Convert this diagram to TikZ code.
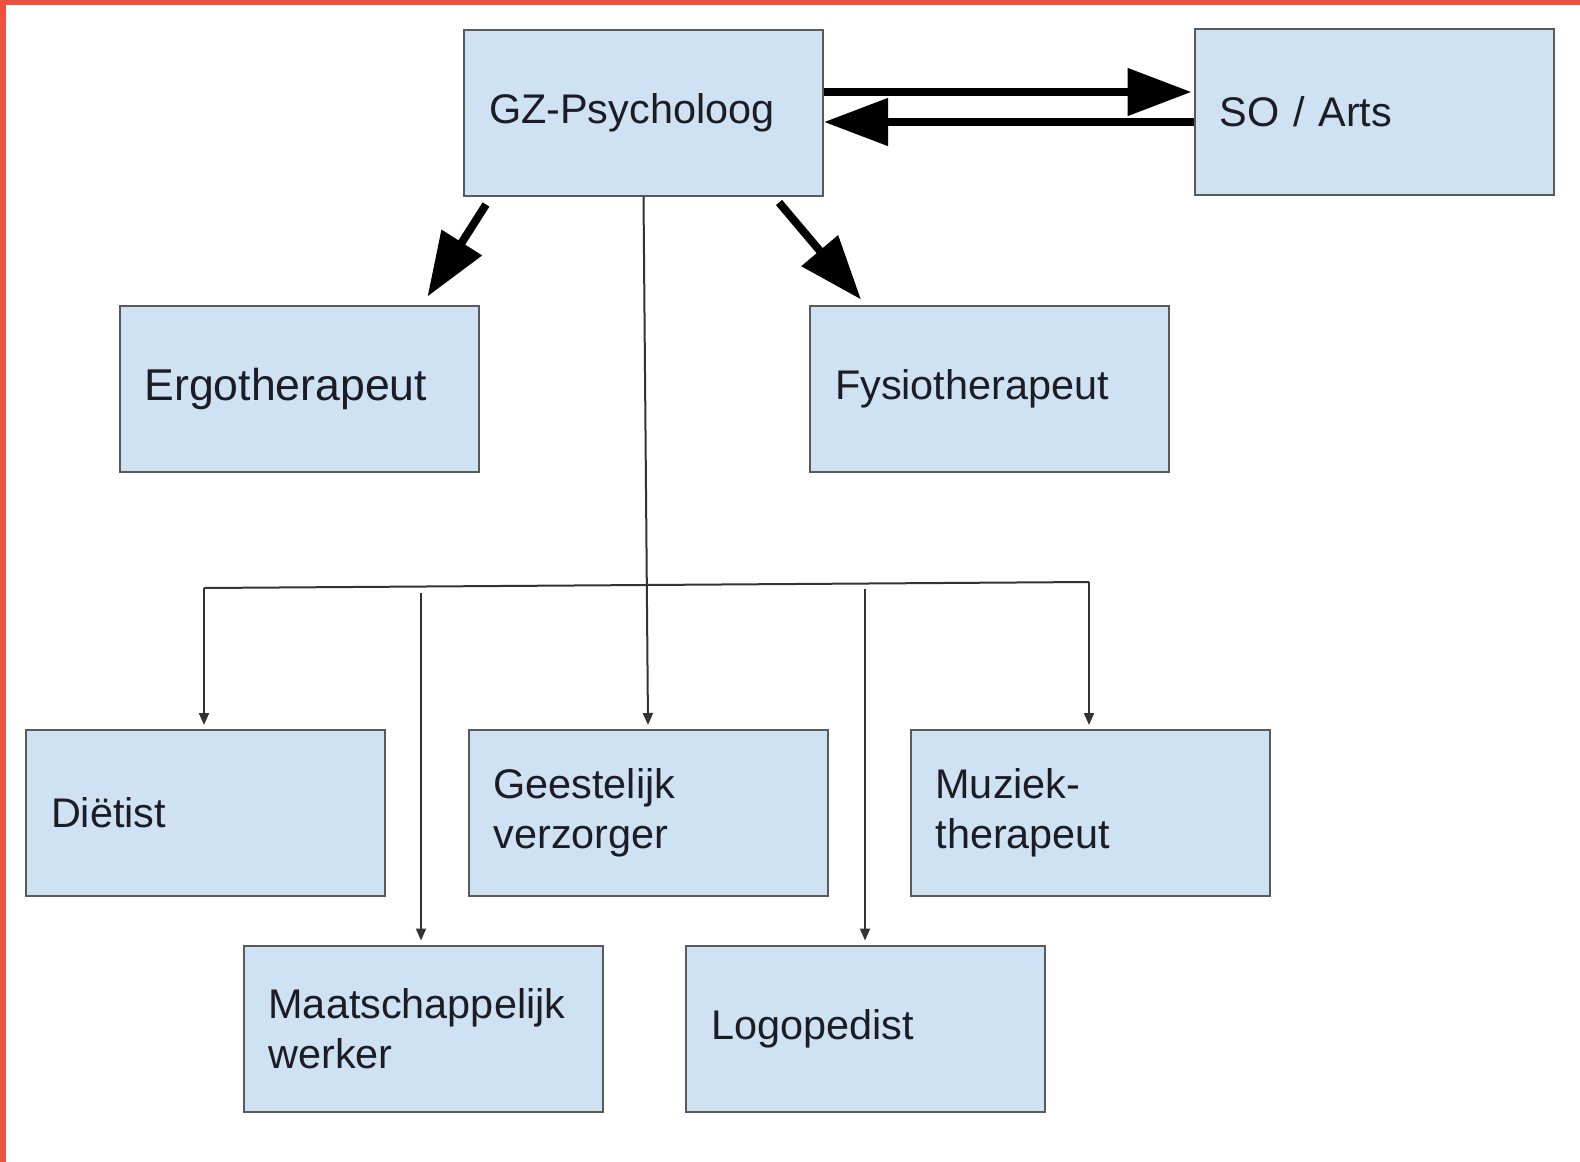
\documentclass[tikz,border=0pt]{standalone}
\usepackage{fontspec}
\setmainfont{Liberation Sans}
\usetikzlibrary{arrows.meta,calc,positioning}
\definecolor{boxfill}{HTML}{CFE2F3}
\definecolor{boxline}{HTML}{5A5A5A}
\definecolor{boxtext}{HTML}{1C1C24}
\definecolor{frame}{HTML}{EE5140}

\begin{document}
\begin{tikzpicture}[x=0.5pt,y=-0.5pt]
\tikzstyle{box}=[draw=boxline,line width=1pt,fill=boxfill,minimum height=83pt,
  text width=154.5pt,inner xsep=12.5pt,inner ysep=2pt,align=left,text=boxtext,
  font=\fontsize{20.7}{25}\selectfont]
\tikzstyle{flow}=[line width=4pt,-{Triangle[length=32pt,width=23pt]}]
\tikzstyle{link}=[line width=1pt,draw=black!80,-{Triangle[length=6pt,width=5pt]}]

\useasboundingbox (0,0) rectangle (1580,1162);
\fill[frame] (0,0) rectangle (1580,5);
\fill[frame] (0,0) rectangle (6,1162);

\node[box] (gz) at (643.5,112.5) {GZ-Psycholoog};
\node[box] (so) at (1374,112) {SO / Arts};
\node[box,font=\fontsize{22.3}{25}\selectfont] (ergo) at (299,388.5) {Ergotherapeut};
\node[box] (fysio) at (989.5,388.5) {Fysiotherapeut};
\node[box] (dietist) at (205.5,813) {Diëtist};
\node[box] (geest) at (648,813) {Geestelijk\\verzorger};
\node[box] (muziek) at (1090,813) {Muziek-\\therapeut};
\node[box] (maatsch) at (423,1028.5) {Maatschappelijk\\werker};
\node[box] (logo) at (865.5,1028.5) {Logopedist};

\coordinate (busL) at (204,588);
\coordinate (busR) at (1089,582);
\coordinate (maatschTop) at (421,593);
\coordinate (logoTop) at (865,589);

\draw[flow] ($(gz.east)+(0,-20.5)$) -- ($(so.west)+(-2,-20)$);
\draw[flow] ($(so.west)+(0,10)$) -- ($(gz.east)+(0,9.5)$);
\draw[flow] ($(gz.south west)+(23,8)$) -- ($(ergo.north east)+(-52,-8)$);
\draw[flow] ($(gz.south east)+(-45,6)$) -- ($(fysio.north west)+(52,-5)$);

\draw[link] (gz.south) -- ($(geest.north)+(0,-4)$);
\draw[line width=1pt,draw=black!80] (busL) -- (busR);
\draw[link] (busL) -- ($(busL |- dietist.north)+(0,-4)$);
\draw[link] (busR) -- ($(busR |- muziek.north)+(0,-4)$);
\draw[link] (maatschTop) -- ($(maatschTop |- maatsch.north)+(0,-4)$);
\draw[link] (logoTop) -- ($(logoTop |- logo.north)+(0,-4)$);
\end{tikzpicture}
\end{document}
